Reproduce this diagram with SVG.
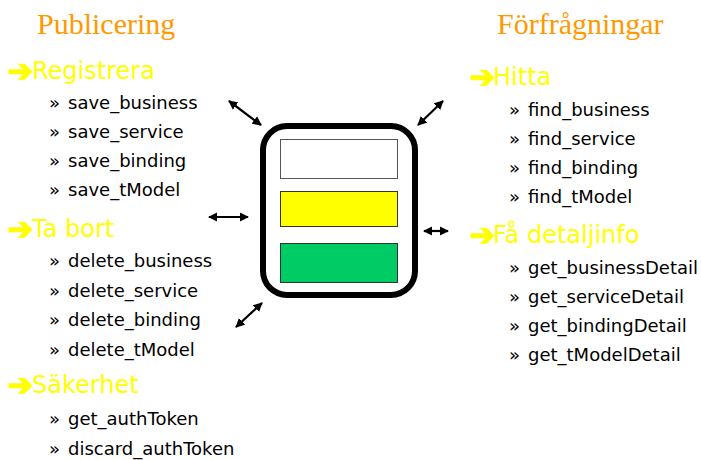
<svg xmlns="http://www.w3.org/2000/svg" width="701" height="460" viewBox="0 0 701 460">
  <defs>
    <marker id="head" viewBox="0 0 10 10" refX="9" refY="5" markerWidth="4.2" markerHeight="4.5" orient="auto-start-reverse" markerUnits="strokeWidth">
      <path d="M0,0 L10,5 L0,10 Z" fill="#000"/>
    </marker>
  </defs>
  <style>
    .title { font-family: "Liberation Serif", serif; font-size: 30px; fill: #FF9900; }
    .head { font-family: "DejaVu Sans", sans-serif; font-size: 24px; fill: #FFFF00; }
    .bullet { font-family: "DejaVu Sans", sans-serif; font-size: 30px; font-weight: bold; fill: #FFFF00; stroke: #FFFF00; stroke-width: 1.6; }
    .item { font-family: "DejaVu Sans", sans-serif; font-size: 18px; fill: #000; }
    .conn { stroke: #000; stroke-width: 2.2; fill: none; marker-start: url(#head); marker-end: url(#head); }
  </style>
  <rect width="701" height="460" fill="#fff"/>

  <g id="publicering">
    <text class="title" x="37" y="34">Publicering</text>
    <text class="bullet" x="8" y="81">➔</text>
    <text class="head" x="32" y="79">Registrera</text>
    <text class="item" x="49" y="109">»</text><text class="item" x="68" y="109">save_business</text>
    <text class="item" x="49" y="138">»</text><text class="item" x="68" y="138">save_service</text>
    <text class="item" x="49" y="167">»</text><text class="item" x="68" y="167">save_binding</text>
    <text class="item" x="49" y="196">»</text><text class="item" x="68" y="196">save_tModel</text>
    <text class="bullet" x="8" y="239">➔</text>
    <text class="head" x="32" y="237">Ta bort</text>
    <text class="item" x="49" y="267">»</text><text class="item" x="68" y="267">delete_business</text>
    <text class="item" x="49" y="297">»</text><text class="item" x="68" y="297">delete_service</text>
    <text class="item" x="49" y="326">»</text><text class="item" x="68" y="326">delete_binding</text>
    <text class="item" x="49" y="356">»</text><text class="item" x="68" y="356">delete_tModel</text>
    <text class="bullet" x="8" y="395">➔</text>
    <text class="head" x="32" y="393">Säkerhet</text>
    <text class="item" x="49" y="425">»</text><text class="item" x="68" y="425">get_authToken</text>
    <text class="item" x="49" y="455">»</text><text class="item" x="68" y="455">discard_authToken</text>
  </g>

  <g id="forfragningar">
    <text class="title" x="497" y="34">Förfrågningar</text>
    <text class="bullet" x="470" y="87">➔</text>
    <text class="head" x="493" y="85">Hitta</text>
    <text class="item" x="509" y="116">»</text><text class="item" x="528" y="116">find_business</text>
    <text class="item" x="509" y="145">»</text><text class="item" x="528" y="145">find_service</text>
    <text class="item" x="509" y="174">»</text><text class="item" x="528" y="174">find_binding</text>
    <text class="item" x="509" y="203">»</text><text class="item" x="528" y="203">find_tModel</text>
    <text class="bullet" x="470" y="245">➔</text>
    <text class="head" x="493" y="243">Få detaljinfo</text>
    <text class="item" x="509" y="274">»</text><text class="item" x="528" y="274">get_businessDetail</text>
    <text class="item" x="509" y="303">»</text><text class="item" x="528" y="303">get_serviceDetail</text>
    <text class="item" x="509" y="332">»</text><text class="item" x="528" y="332">get_bindingDetail</text>
    <text class="item" x="509" y="361">»</text><text class="item" x="528" y="361">get_tModelDetail</text>
  </g>

  <g id="registry">
    <rect x="263" y="126" width="152" height="169" rx="24" fill="#fff" stroke="#000" stroke-width="6"/>
    <rect x="280.5" y="139.5" width="117" height="39" fill="#fff" stroke="#555" stroke-width="1"/>
    <rect x="280.5" y="191.5" width="117" height="35" fill="#FFFF00" stroke="#333" stroke-width="1"/>
    <rect x="280.5" y="243.5" width="117" height="39" fill="#00CC66" stroke="#333" stroke-width="1"/>
  </g>

  <g id="connectors">
    <line class="conn" x1="229" y1="101" x2="261" y2="125"/>
    <line class="conn" x1="418" y1="125" x2="443" y2="101"/>
    <line class="conn" x1="209" y1="217" x2="248" y2="217"/>
    <line class="conn" x1="424" y1="231" x2="448" y2="231"/>
    <line class="conn" x1="236" y1="327" x2="262" y2="303"/>
  </g>
</svg>
